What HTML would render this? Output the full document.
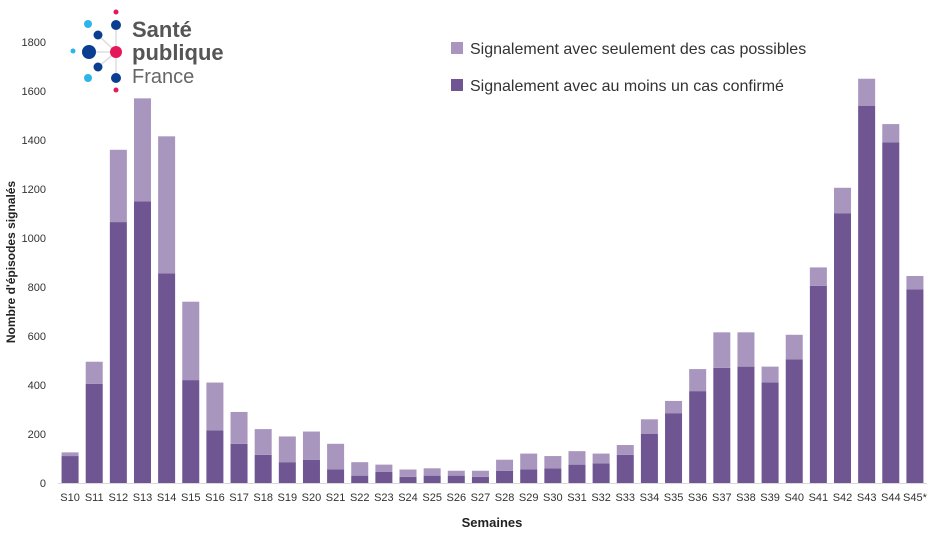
<!DOCTYPE html>
<html><head><meta charset="utf-8"><style>
body{margin:0;background:#fff;}
svg{display:block;font-family:"Liberation Sans",sans-serif;}
</style></head><body>
<svg id="c" width="943" height="535">
<g>
<line x1="89" y1="52" x2="116" y2="52" stroke="#ddd" stroke-width="1.5"/>
<line x1="98" y1="35" x2="116" y2="52" stroke="#ddd" stroke-width="1.5"/>
<line x1="98" y1="67" x2="116" y2="52" stroke="#ddd" stroke-width="1.5"/>
<line x1="116" y1="25" x2="116" y2="77" stroke="#ddd" stroke-width="1.5"/>
<circle cx="116" cy="12" r="2.5" fill="#e5195a"/>
<circle cx="116" cy="25" r="5" fill="#0b3d91"/>
<circle cx="88" cy="24" r="4" fill="#2bb5e8"/>
<circle cx="98" cy="35" r="4.5" fill="#0b3d91"/>
<circle cx="89" cy="52" r="7" fill="#0b3d91"/>
<circle cx="73" cy="51" r="2.5" fill="#2bb5e8"/>
<circle cx="116" cy="52" r="6" fill="#e5195a"/>
<circle cx="98" cy="67" r="4.5" fill="#0b3d91"/>
<circle cx="88" cy="78" r="4" fill="#2bb5e8"/>
<circle cx="116" cy="78" r="5" fill="#0b3d91"/>
<circle cx="116" cy="90" r="2.5" fill="#e5195a"/>
<text x="132" y="37" font-size="22" font-weight="bold" fill="#555">Santé</text>
<text x="132" y="60" font-size="22" font-weight="bold" fill="#555">publique</text>
<text x="132" y="83" font-size="20" fill="#666">France</text>
</g>
<g>
<rect x="451" y="42" width="12" height="12" fill="#a896bf"/>
<text x="470" y="54" font-size="16" fill="#333">Signalement avec seulement des cas possibles</text>
<rect x="451" y="79" width="12" height="12" fill="#6f5592"/>
<text x="470" y="91" font-size="16" fill="#333">Signalement avec au moins un cas confirmé</text>
</g>
<text transform="translate(15,262) rotate(-90)" text-anchor="middle" font-size="12" font-weight="bold" fill="#222">Nombre d'épisodes signalés</text>
<text x="492" y="527" text-anchor="middle" font-size="13" font-weight="bold" fill="#222">Semaines</text>
</svg>
<script>
const categories=["S10","S11","S12","S13","S14","S15","S16","S17","S18","S19","S20","S21","S22","S23","S24","S25","S26","S27","S28","S29","S30","S31","S32","S33","S34","S35","S36","S37","S38","S39","S40","S41","S42","S43","S44","S45*"];
const confirmed=[110,405,1065,1150,855,420,215,160,115,85,95,55,30,45,25,30,30,25,50,55,60,75,80,115,200,285,375,470,475,410,505,805,1100,1540,1390,790];
const possibles=[15,90,295,420,560,320,195,130,105,105,115,105,55,30,30,30,20,25,45,65,50,55,40,40,60,50,90,145,140,65,100,75,105,110,75,55];
const yTicks=[0,200,400,600,800,1000,1200,1400,1600,1800];
const svg=document.getElementById('c');
const NS='http://www.w3.org/2000/svg';
const x0=58,x1=927,yb=483,yt=42,ymax=1800;
const step=(x1-x0)/categories.length;
const bw=17;
function xs(i){return x0+step*(i+0.5);}
function ys(v){return yb-(v/ymax)*(yb-yt);}
function mk(t,a){const e=document.createElementNS(NS,t);for(const k in a)e.setAttribute(k,a[k]);svg.appendChild(e);return e;}
const ax=mk('line',{x1:x0,x2:x1,y1:yb+0.5,y2:yb+0.5,stroke:'#d9d9d9','stroke-width':1});


yTicks.forEach(v=>{const t=mk('text',{x:46,y:ys(v)+4,'text-anchor':'end','font-size':11,fill:'#333'});t.textContent=v;

});
categories.forEach((c,i)=>{
const cx=xs(i);
const b1=mk('rect',{x:cx-bw/2,y:ys(confirmed[i]),width:bw,height:yb-ys(confirmed[i]),fill:'#6f5592'});


const top=confirmed[i]+possibles[i];
const b2=mk('rect',{x:cx-bw/2,y:ys(top),width:bw,height:ys(confirmed[i])-ys(top),fill:'#a896bf'});


const t=mk('text',{x:cx,y:501,'text-anchor':'middle','font-size':11,fill:'#333'});t.textContent=c;


});
</script>
</body></html>
